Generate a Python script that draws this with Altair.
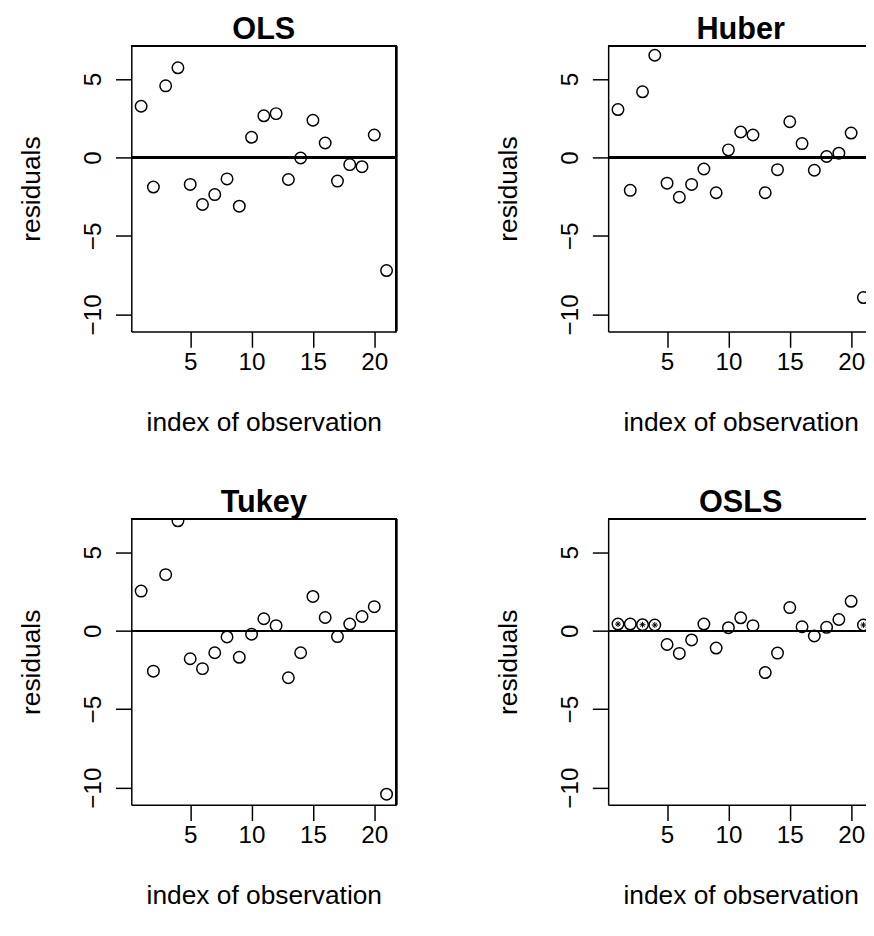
import altair as alt
import pandas as pd

# ---- data ----
obs = [1, 2, 3, 4, 5, 6, 7, 8, 9, 10, 11, 12, 13, 14, 15, 16, 17, 18, 19, 20, 21]
ols = [3.26, -1.89, 4.56, 5.71, -1.72, -3.00, -2.37, -1.37, -3.11, 1.28, 2.65,
       2.79, -1.41, -0.04, 2.37, 0.92, -1.51, -0.46, -0.59, 1.43, -7.21]
huber = [3.05, -2.10, 4.18, 6.51, -1.64, -2.54, -1.72, -0.74, -2.25, 0.48, 1.62,
         1.43, -2.25, -0.78, 2.27, 0.88, -0.82, 0.06, 0.27, 1.55, -8.93]
tukey = [2.52, -2.58, 3.57, 7.00, -1.79, -2.42, -1.41, -0.40, -1.70, -0.23, 0.76,
         0.32, -3.00, -1.41, 2.18, 0.84, -0.38, 0.42, 0.90, 1.53, -10.42]
osls = [0.42, 0.42, 0.38, 0.36, -0.88, -1.45, -0.59, 0.42, -1.11, 0.19, 0.82,
        0.32, -2.67, -1.43, 1.47, 0.25, -0.34, 0.21, 0.71, 1.87, 0.36]
osls_flagged = [1, 3, 4, 21]
panel_titles = ["OLS", "Huber", "Tukey", "OSLS"]
x_ticks = [5, 10, 15, 20]
y_ticks = [-10, -5, 0, 5]
x_title = "index of observation"
y_title = "residuals"

FONT = "Liberation Sans"
FS = 24.5        # tick labels
AFS = 26.6       # axis titles
TFS = 31         # panel titles
LW = 1.5
PXU = 12.41      # pixels per observation unit
H = 289
W_FULL = 268
W_RIGHT = 261
Y_DOM = [-11.09, 7.12]

STAR = "M-1,0L1,0M0,-1L0,1M-0.7071,-0.7071L0.7071,0.7071M-0.7071,0.7071L0.7071,-0.7071"


def panel(name, vals, right=False, flagged=None):
    W = W_RIGHT if right else W_FULL
    xmax = 0.2 + W / PXU
    df = pd.DataFrame({"obs": obs, "res": vals})
    xs = alt.Scale(domain=[0.2, xmax], nice=False, zero=False)
    ys = alt.Scale(domain=Y_DOM, nice=False, zero=False)
    xaxis = alt.Axis(values=x_ticks, title=x_title, grid=False,
                     titleFont=FONT, titleFontSize=AFS, titleFontWeight="normal",
                     titleColor="black", titleBaseline="alphabetic",
                     titleAlign="center", titleX=W_FULL / 2, titleY=100,
                     labelFont=FONT, labelFontSize=FS, labelColor="black",
                     labelBaseline="alphabetic", labelPadding=22,
                     labelFlush=False, labelOverlap=False,
                     tickSize=16, tickColor="black", tickWidth=LW,
                     domainColor="black", domainWidth=LW)
    yaxis = alt.Axis(values=y_ticks, title=y_title, grid=False,
                     titleFont=FONT, titleFontSize=AFS, titleFontWeight="normal",
                     titleColor="black", titleAngle=-90, titleBaseline="alphabetic",
                     titleAlign="center", titleX=-93, titleY=H / 2,
                     labelFont=FONT, labelFontSize=FS, labelColor="black",
                     labelAngle=-90, labelAlign="center", labelBaseline="alphabetic",
                     labelPadding=15, labelFlush=False, labelOverlap=False,
                     tickSize=16, tickColor="black", tickWidth=LW,
                     domainColor="black", domainWidth=LW)

    base = alt.Chart(df)
    pts = base.mark_point(shape="circle", filled=False, color="black", size=135,
                          strokeWidth=LW, opacity=1, clip=True).encode(
        x=alt.X("obs:Q", scale=xs, axis=xaxis),
        y=alt.Y("res:Q", scale=ys, axis=yaxis),
    )
    zero = base.mark_rule(color="black", strokeWidth=LW).encode(
        y=alt.datum(0), x=alt.value(0), x2=alt.value(W))
    top = base.mark_rule(color="black", strokeWidth=LW).encode(
        y=alt.value(0), x=alt.value(0), x2=alt.value(W))
    title = alt.Chart(pd.DataFrame({"t": [name]})).mark_text(
        font=FONT, fontSize=TFS, fontWeight="bold", color="black",
        align="center", baseline="middle").encode(
        text="t:N", x=alt.value(W_FULL / 2), y=alt.value(-16))
    layers = [zero, top, pts, title]
    if not right:
        rside = base.mark_rule(color="black", strokeWidth=LW).encode(
            x=alt.value(W), y=alt.value(0), y2=alt.value(H))
        layers.append(rside)
    if flagged:
        fdf = df[df["obs"].isin(flagged)]
        stars = alt.Chart(fdf).mark_point(shape=STAR, filled=False, color="black",
                                          size=36, strokeWidth=1, opacity=1,
                                          clip=True).encode(
            x=alt.X("obs:Q", scale=xs), y=alt.Y("res:Q", scale=ys))
        layers.append(stars)
    return alt.layer(*layers).properties(width=W, height=H)


p1 = panel(panel_titles[0], ols)
p2 = panel(panel_titles[1], huber, right=True)
p3 = panel(panel_titles[2], tukey)
p4 = panel(panel_titles[3], osls, right=True, flagged=osls_flagged)

row1 = alt.hconcat(p1, p2, spacing=97.25)
row2 = alt.hconcat(p3, p4, spacing=97.25)
chart = alt.vconcat(row1, row2, spacing=49.6).properties(
    padding={"left": 9.7, "top": 0, "right": -2, "bottom": -5},
    background="white",
).configure_view(stroke="transparent")

chart.save("out.html", embed_options={"renderer": "svg", "actions": False})
